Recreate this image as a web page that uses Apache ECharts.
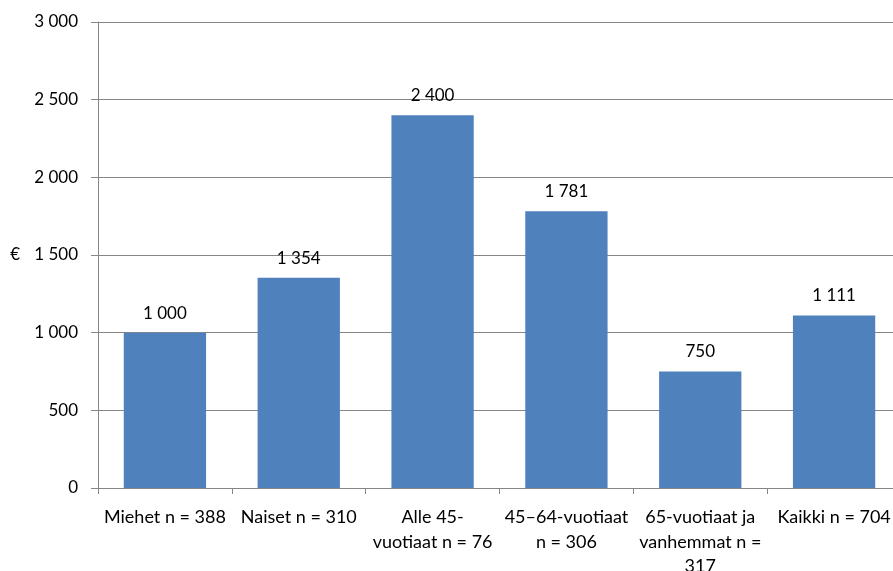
<!DOCTYPE html>
<html><head><meta charset="utf-8">
<script src="https://cdn.jsdelivr.net/npm/echarts@6/dist/echarts.min.js"></script>
<style>html,body{margin:0;padding:0;background:#fff}#c{width:893px;height:571px}</style>
</head><body><div id="c"></div>
<script>
const categories = ["Miehet n = 388", "Naiset n = 310", "Alle 45-\nvuotiaat n = 76", "45–64-vuotiaat\nn = 306", "65-vuotiaat ja\nvanhemmat n =\n317", "Kaikki n = 704"];
const values = [1000, 1354, 2400, 1781, 750, 1111];
const yTicks = { min: 0, max: 3000, interval: 500 };
const yName = "€";

const fmt = v => String(v).replace(/\B(?=(\d{3})+(?!\d))/g, " ");
const FONT = "Lato";
const chart = echarts.init(document.getElementById('c'), null, {renderer: 'canvas'});
chart.setOption({
  animation: false,
  backgroundColor: '#fff',
  grid: { left: 98, right: -8, top: 22, bottom: 83, containLabel: false, outerBoundsMode: 'none' },
  xAxis: {
    type: 'category', data: categories, boundaryGap: true,
    axisLine: { lineStyle: { color: '#868686', width: 1 } },
    axisTick: { show: true, alignWithLabel: false, length: 6, lineStyle: { color: '#868686' } },
    axisLabel: { interval: 0, color: '#000', fontFamily: FONT, fontSize: 18, lineHeight: 24.5, margin: 17, hideOverlap: false }
  },
  yAxis: {
    type: 'value', min: yTicks.min, max: yTicks.max, interval: yTicks.interval,
    name: yName, nameLocation: 'middle', nameRotate: 0, nameGap: 78,
    nameTextStyle: { color: '#000', fontFamily: FONT, fontSize: 17 },
    axisLine: { show: true, lineStyle: { color: '#868686', width: 1 } },
    axisTick: { show: true, length: 7, lineStyle: { color: '#868686' } },
    splitLine: { show: true, lineStyle: { color: '#868686', width: 1 } },
    axisLabel: { color: '#000', fontFamily: FONT, fontSize: 17, margin: 20, formatter: v => fmt(v) }
  },
  series: [{
    type: 'bar', data: values, barCategoryGap: '38.5%',
    itemStyle: { color: '#4f81bd' },
    label: { show: true, position: 'top', distance: 11, color: '#000', fontFamily: FONT, fontSize: 17, formatter: p => fmt(p.value) }
  }]
});
</script></body></html>
